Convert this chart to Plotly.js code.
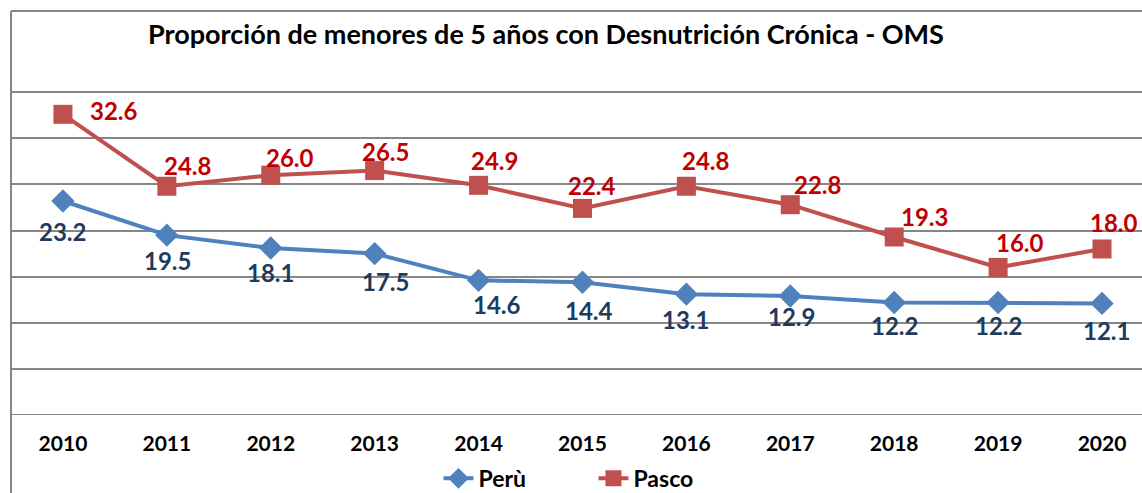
<!DOCTYPE html>
<html><head><meta charset="utf-8">
<script src="https://cdn.plot.ly/plotly-3.0.1.min.js"></script>
<style>html,body{margin:0;padding:0;background:#fff}#c{width:1142px;height:493px}</style>
</head><body><div id="c"></div>
<script>
const years = ['2010','2011','2012','2013','2014','2015','2016','2017','2018','2019','2020'];
const peru = [23.2, 19.5, 18.1, 17.5, 14.6, 14.4, 13.1, 12.9, 12.2, 12.2, 12.1];
const pasco = [32.6, 24.8, 26.0, 26.5, 24.9, 22.4, 24.8, 22.8, 19.3, 16.0, 18.0];
const titleText = 'Proporción de menores de 5 años con Desnutrición Crónica - OMS';

// label offsets (px), styling only
const pascoDx = [51, 21, 19, 11, 16, 10, 19, 27, 30, 22, 12];
const pascoDy = [4, 21, 18, 19, 25, 23, 26, 20, 20, 25, 26];
const peruDx = [0, 1, 0, 11, 18, 7, -1, 1, 0, 0, 4];
const peruDy = [-30, -25, -24, -28, -24, -28, -25, -20, -23, -23, -27];

const FONT = 'Lato, "Open Sans", "Liberation Sans", sans-serif';
const annotations = [];
for (let i = 0; i < years.length; i++) {
  annotations.push({x: i, y: pasco[i], xref: 'x', yref: 'y', text: '<b>' + pasco[i].toFixed(1) + '</b>', showarrow: false,
    xanchor: 'center', yanchor: 'middle',
    xshift: pascoDx[i], yshift: pascoDy[i], font: {family: FONT, size: 24, color: '#C00000'}});
  annotations.push({x: i, y: peru[i], xref: 'x', yref: 'y', text: '<b>' + peru[i].toFixed(1) + '</b>', showarrow: false,
    xanchor: 'center', yanchor: 'middle',
    xshift: peruDx[i], yshift: peruDy[i], font: {family: FONT, size: 24, color: '#1F3A5F'}});
}

const traces = [
  {x: years, y: peru, name: 'Perù', type: 'scatter', mode: 'lines+markers',
   line: {color: '#4F81BD', width: 4}, marker: {symbol: 'diamond', size: 18, color: '#4F81BD'}},
  {x: years, y: pasco, name: 'Pasco', type: 'scatter', mode: 'lines+markers',
   line: {color: '#C0504D', width: 4}, marker: {symbol: 'square', size: 19, color: '#C0504D'}}
];

const layout = {
  width: 1142, height: 493,
  margin: {l: 11, r: 0, t: 11, b: 78, autoexpand: false},
  paper_bgcolor: '#fff', plot_bgcolor: '#fff',
  font: {family: FONT, color: '#000'},
  title: {text: titleText, font: {family: FONT, size: 27, color: '#000', weight: 700},
    x: 546/1142, xref: 'container', xanchor: 'center', y: 1 - 35/493, yref: 'container', yanchor: 'middle'},
  showlegend: true,
  legend: {orientation: 'h', x: 0.515, xanchor: 'center', y: -0.21, yanchor: 'bottom', bgcolor: 'rgba(0,0,0,0)',
    font: {family: FONT, size: 23, color: '#000', weight: 700}, entrywidth: 110, tracegroupgap: 0},
  xaxis: {type: 'category', range: [-0.5, 10.385], showgrid: false, zeroline: false, showline: false,
    ticks: '', ticklabelstandoff: 14, tickfont: {family: FONT, size: 21, color: '#000', weight: 700}, fixedrange: true},
  yaxis: {range: [0, 43.8], tickvals: [0, 5, 10, 15, 20, 25, 30, 35], showticklabels: false,
    showgrid: true, gridcolor: '#868686', gridwidth: 2, zeroline: false, showline: false, fixedrange: true},
  shapes: [
    {type: 'line', xref: 'paper', yref: 'paper', x0: 0, x1: 0, y0: -0.2, y1: 1, line: {color: '#868686', width: 2}},
    {type: 'line', xref: 'paper', yref: 'paper', x0: 0, x1: 1, y0: 1, y1: 1, line: {color: '#868686', width: 2}},
    {type: 'line', xref: 'paper', yref: 'y', x0: 0, x1: 1, y0: 0, y1: 0, line: {color: '#868686', width: 2}}
  ],
  annotations: annotations
};

Plotly.newPlot('c', traces, layout, {displayModeBar: false, staticPlot: true});
</script></body></html>
